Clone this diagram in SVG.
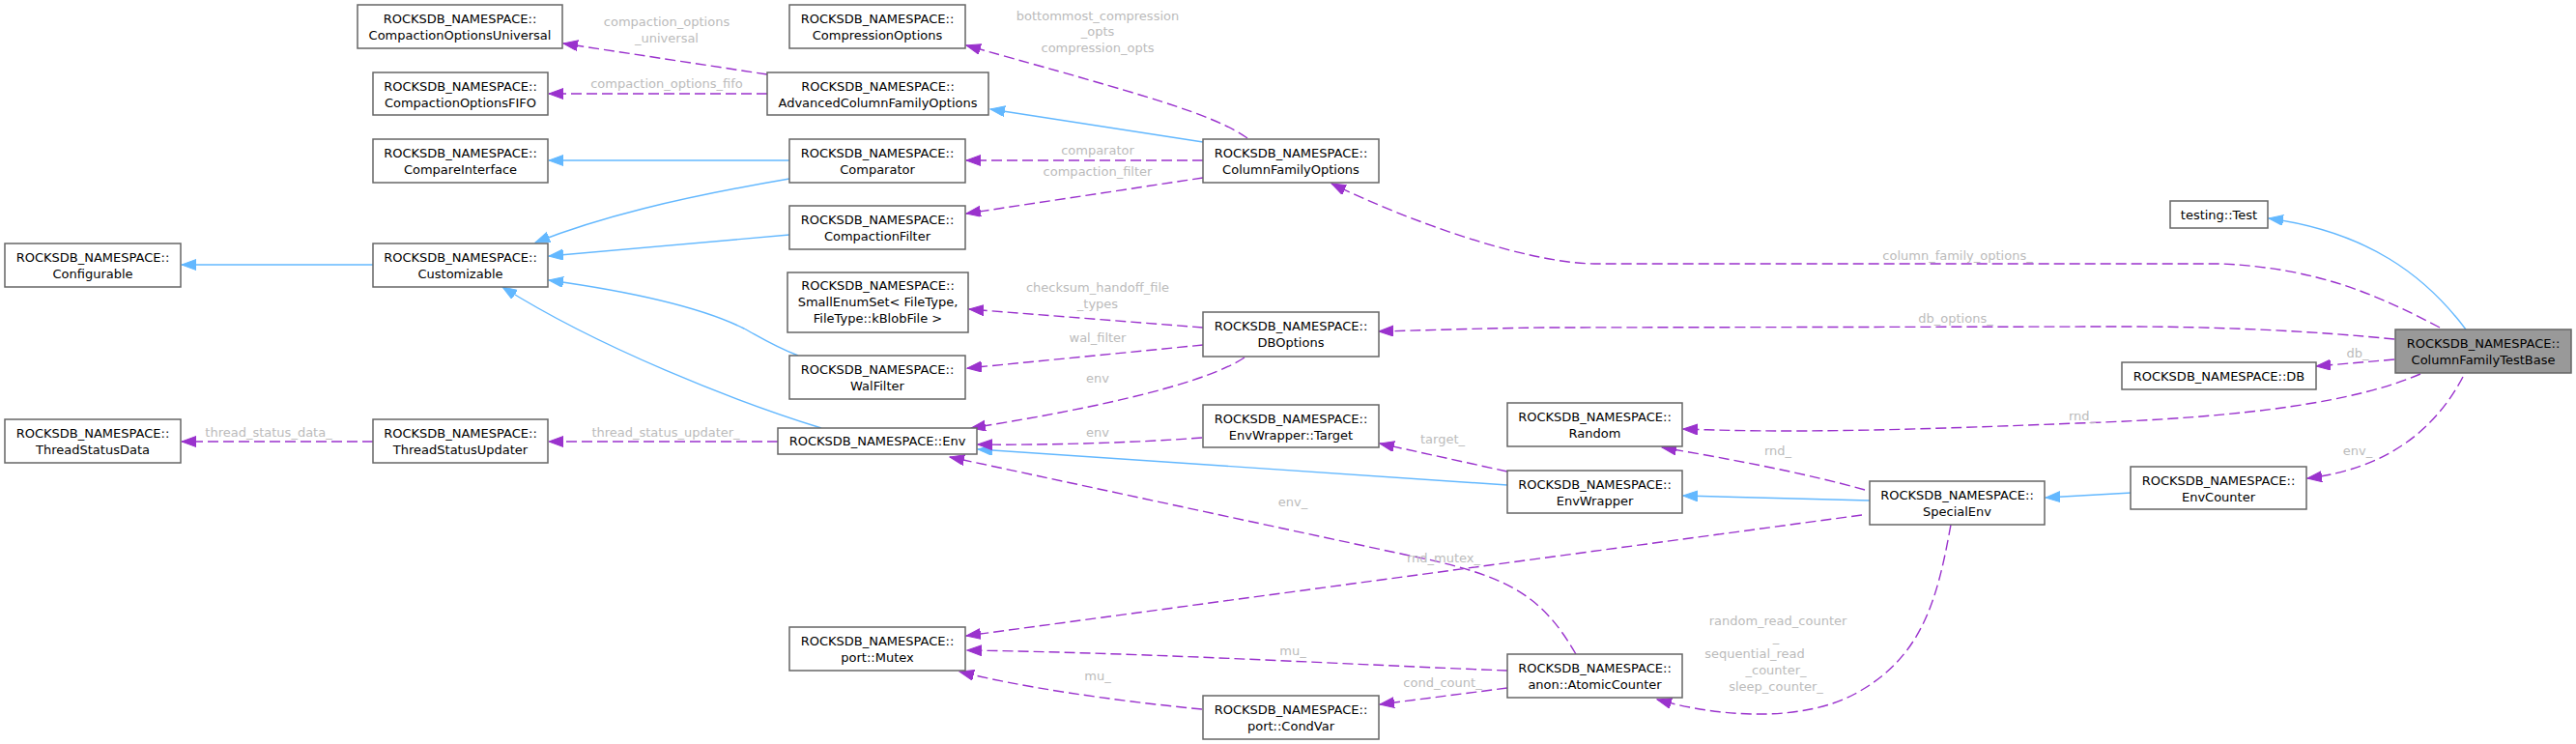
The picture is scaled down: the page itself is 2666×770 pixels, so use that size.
<svg xmlns="http://www.w3.org/2000/svg" width="2666" height="770" viewBox="0 0 2666 770">
<style>
.nd rect{fill:#fff;stroke:#666;stroke-width:1.5}
.nd.main rect{fill:#999}
.nd text{font-family:"DejaVu Sans",sans-serif;font-size:13px;fill:#000;text-anchor:middle}
.inh{fill:none;stroke:#63b8ff;stroke-width:1.4;marker-end:url(#ab)}
.use{fill:none;stroke:#9a32cd;stroke-width:1.4;stroke-dasharray:11,5;marker-end:url(#ap)}
.lb{font-family:"DejaVu Sans",sans-serif;font-size:13px;fill:#bbbbbb;text-anchor:middle}
</style>
<defs>
<marker id="ab" markerUnits="userSpaceOnUse" markerWidth="16" markerHeight="12" refX="15" refY="5.5" orient="auto"><path d="M0,0 L15,5.5 L0,11 z" fill="#63b8ff" stroke="#63b8ff" stroke-width="1"/></marker>
<marker id="ap" markerUnits="userSpaceOnUse" markerWidth="16" markerHeight="12" refX="15" refY="5.5" orient="auto"><path d="M0,0 L15,5.5 L0,11 z" fill="#9a32cd" stroke="#9a32cd" stroke-width="1"/></marker>
</defs>
<rect x="0" y="0" width="2666" height="770" fill="#fff"/>
<g id="edges">
<path class="inh" d="M2552,341 C2510,285 2450,240 2348,226"/>
<path class="inh" d="M1245,147 L1025,113"/>
<path class="inh" d="M817,166 L568,166"/>
<path class="inh" d="M817,185 C700,205 620,225 554,251"/>
<path class="inh" d="M817,243 C720,252 640,258 568,265"/>
<path class="inh" d="M826,368 C800,358 785,348 770,340 C720,315 640,300 568,290"/>
<path class="inh" d="M850,443 C760,415 620,360 520,297"/>
<path class="inh" d="M386,274 L188,274"/>
<path class="inh" d="M1560,502 L1012,465"/>
<path class="inh" d="M1935,518 L1742,513"/>
<path class="inh" d="M2206,510 L2117,515"/>
<path class="use" d="M794,77 L583,45"/>
<path class="use" d="M794,97 L568,97"/>
<path class="use" d="M1291,143 C1255,118 1190,100 1000,47"/>
<path class="use" d="M1245,166 L1000,166"/>
<path class="use" d="M1245,184 L1000,221"/>
<path class="use" d="M2525,339 C2460,305 2400,278 2300,273 L1650,273 C1580,272 1460,230 1378,190"/>
<path class="use" d="M2478,351 C2400,343 2300,338 2200,338 L1600,339 C1520,340 1470,342 1427,343"/>
<path class="use" d="M2478,372 L2397,379"/>
<path class="use" d="M2505,387 C2440,415 2330,432 2150,438 C1950,446 1850,448 1742,444"/>
<path class="use" d="M2549,390 C2520,445 2470,485 2388,495"/>
<path class="use" d="M1930,507 C1870,490 1790,475 1720,463"/>
<path class="use" d="M1560,488 L1428,459"/>
<path class="use" d="M1288,370 C1250,395 1150,420 1005,443"/>
<path class="use" d="M1244,453 C1180,458 1080,461 1012,460"/>
<path class="use" d="M1631,677 C1595,615 1560,595 1454,574 L983,473"/>
<path class="use" d="M1927,533 L1000,658"/>
<path class="use" d="M1560,694 C1400,688 1200,676 1001,673"/>
<path class="use" d="M1560,712 L1428,729"/>
<path class="use" d="M1244,734 C1150,725 1050,710 993,695"/>
<path class="use" d="M2019,543 C2005,620 1990,680 1920,718 C1870,745 1790,745 1715,724"/>
<path class="use" d="M386,457 L188,457"/>
<path class="use" d="M805,457 L568,457"/>
<path class="use" d="M1245,339 L1003,320"/>
<path class="use" d="M1245,357 L1001,381"/>
<text class="lb" x="690" y="27">compaction_options</text>
<text class="lb" x="690" y="44">_universal</text>
<text class="lb" x="690" y="91">compaction_options_fifo</text>
<text class="lb" x="1136" y="21">bottommost_compression</text>
<text class="lb" x="1136" y="37">_opts</text>
<text class="lb" x="1136" y="54">compression_opts</text>
<text class="lb" x="1136" y="160">comparator</text>
<text class="lb" x="1136" y="182">compaction_filter</text>
<text class="lb" x="2026" y="269">column_family_options_</text>
<text class="lb" x="1136" y="302">checksum_handoff_file</text>
<text class="lb" x="1136" y="319">_types</text>
<text class="lb" x="1136" y="354">wal_filter</text>
<text class="lb" x="1136" y="396">env</text>
<text class="lb" x="1136" y="452">env</text>
<text class="lb" x="2024" y="334">db_options_</text>
<text class="lb" x="2440" y="370">db_</text>
<text class="lb" x="2155" y="435">rnd_</text>
<text class="lb" x="1493" y="459">target_</text>
<text class="lb" x="1840" y="471">rnd_</text>
<text class="lb" x="2440" y="471">env_</text>
<text class="lb" x="1338" y="524">env_</text>
<text class="lb" x="1494" y="582">rnd_mutex_</text>
<text class="lb" x="1338" y="678">mu_</text>
<text class="lb" x="1493" y="711">cond_count_</text>
<text class="lb" x="1136" y="704">mu_</text>
<text class="lb" x="1840" y="647">random_read_counter</text>
<text class="lb" x="1838" y="664">_</text>
<text class="lb" x="1816" y="681">sequential_read</text>
<text class="lb" x="1838" y="698">_counter_</text>
<text class="lb" x="1838" y="715">sleep_counter_</text>
<text class="lb" x="278" y="452">thread_status_data_</text>
<text class="lb" x="689" y="452">thread_status_updater_</text>
</g>
<g id="n_main" class="nd main"><rect x="2479" y="341" width="182" height="45"/><text x="2570" y="360">ROCKSDB_NAMESPACE::</text><text x="2570" y="377">ColumnFamilyTestBase</text></g>
<g id="n_test" class="nd"><rect x="2246" y="208" width="101" height="28"/><text x="2296.5" y="226.5">testing::Test</text></g>
<g id="n_db" class="nd"><rect x="2196" y="375" width="201" height="28"/><text x="2296.5" y="393.5">ROCKSDB_NAMESPACE::DB</text></g>
<g id="n_envcounter" class="nd"><rect x="2205" y="483" width="182" height="44"/><text x="2296" y="502">ROCKSDB_NAMESPACE::</text><text x="2296" y="519">EnvCounter</text></g>
<g id="n_specialenv" class="nd"><rect x="1935" y="498" width="181" height="45"/><text x="2025.5" y="517">ROCKSDB_NAMESPACE::</text><text x="2025.5" y="534">SpecialEnv</text></g>
<g id="n_random" class="nd"><rect x="1560" y="417" width="181" height="45"/><text x="1650.5" y="436">ROCKSDB_NAMESPACE::</text><text x="1650.5" y="453">Random</text></g>
<g id="n_envwrapper" class="nd"><rect x="1560" y="487" width="181" height="44"/><text x="1650.5" y="506">ROCKSDB_NAMESPACE::</text><text x="1650.5" y="523">EnvWrapper</text></g>
<g id="n_atomic" class="nd"><rect x="1560" y="677" width="181" height="45"/><text x="1650.5" y="696">ROCKSDB_NAMESPACE::</text><text x="1650.5" y="713">anon::AtomicCounter</text></g>
<g id="n_cfo" class="nd"><rect x="1245" y="144" width="182" height="45"/><text x="1336" y="163">ROCKSDB_NAMESPACE::</text><text x="1336" y="180">ColumnFamilyOptions</text></g>
<g id="n_dbo" class="nd"><rect x="1245" y="323" width="182" height="46"/><text x="1336" y="342">ROCKSDB_NAMESPACE::</text><text x="1336" y="359">DBOptions</text></g>
<g id="n_target" class="nd"><rect x="1245" y="419" width="182" height="44"/><text x="1336" y="438">ROCKSDB_NAMESPACE::</text><text x="1336" y="455">EnvWrapper::Target</text></g>
<g id="n_condvar" class="nd"><rect x="1245" y="720" width="182" height="45"/><text x="1336" y="739">ROCKSDB_NAMESPACE::</text><text x="1336" y="756">port::CondVar</text></g>
<g id="n_compression" class="nd"><rect x="817" y="5" width="182" height="45"/><text x="908" y="24">ROCKSDB_NAMESPACE::</text><text x="908" y="41">CompressionOptions</text></g>
<g id="n_acfo" class="nd"><rect x="794" y="75" width="229" height="44"/><text x="908.5" y="94">ROCKSDB_NAMESPACE::</text><text x="908.5" y="111">AdvancedColumnFamilyOptions</text></g>
<g id="n_comparator" class="nd"><rect x="817" y="144" width="182" height="45"/><text x="908" y="163">ROCKSDB_NAMESPACE::</text><text x="908" y="180">Comparator</text></g>
<g id="n_cfilter" class="nd"><rect x="817" y="213" width="182" height="45"/><text x="908" y="232">ROCKSDB_NAMESPACE::</text><text x="908" y="249">CompactionFilter</text></g>
<g id="n_smallenum" class="nd"><rect x="815" y="282" width="187" height="62"/><text x="908.5" y="300">ROCKSDB_NAMESPACE::</text><text x="908.5" y="317">SmallEnumSet&lt; FileType,</text><text x="908.5" y="334">FileType::kBlobFile &gt;</text></g>
<g id="n_walfilter" class="nd"><rect x="817" y="368" width="182" height="45"/><text x="908" y="387">ROCKSDB_NAMESPACE::</text><text x="908" y="404">WalFilter</text></g>
<g id="n_env" class="nd"><rect x="805" y="443" width="206" height="27"/><text x="908" y="461">ROCKSDB_NAMESPACE::Env</text></g>
<g id="n_mutex" class="nd"><rect x="817" y="649" width="182" height="45"/><text x="908" y="668">ROCKSDB_NAMESPACE::</text><text x="908" y="685">port::Mutex</text></g>
<g id="n_cou" class="nd"><rect x="370" y="5" width="212" height="45"/><text x="476" y="24">ROCKSDB_NAMESPACE::</text><text x="476" y="41">CompactionOptionsUniversal</text></g>
<g id="n_cofifo" class="nd"><rect x="386" y="75" width="181" height="44"/><text x="476.5" y="94">ROCKSDB_NAMESPACE::</text><text x="476.5" y="111">CompactionOptionsFIFO</text></g>
<g id="n_compareif" class="nd"><rect x="386" y="144" width="181" height="45"/><text x="476.5" y="163">ROCKSDB_NAMESPACE::</text><text x="476.5" y="180">CompareInterface</text></g>
<g id="n_customizable" class="nd"><rect x="386" y="252" width="181" height="45"/><text x="476.5" y="271">ROCKSDB_NAMESPACE::</text><text x="476.5" y="288">Customizable</text></g>
<g id="n_tsupdater" class="nd"><rect x="386" y="434" width="181" height="45"/><text x="476.5" y="453">ROCKSDB_NAMESPACE::</text><text x="476.5" y="470">ThreadStatusUpdater</text></g>
<g id="n_configurable" class="nd"><rect x="5" y="252" width="182" height="45"/><text x="96" y="271">ROCKSDB_NAMESPACE::</text><text x="96" y="288">Configurable</text></g>
<g id="n_tsdata" class="nd"><rect x="5" y="434" width="182" height="45"/><text x="96" y="453">ROCKSDB_NAMESPACE::</text><text x="96" y="470">ThreadStatusData</text></g>
</svg>
